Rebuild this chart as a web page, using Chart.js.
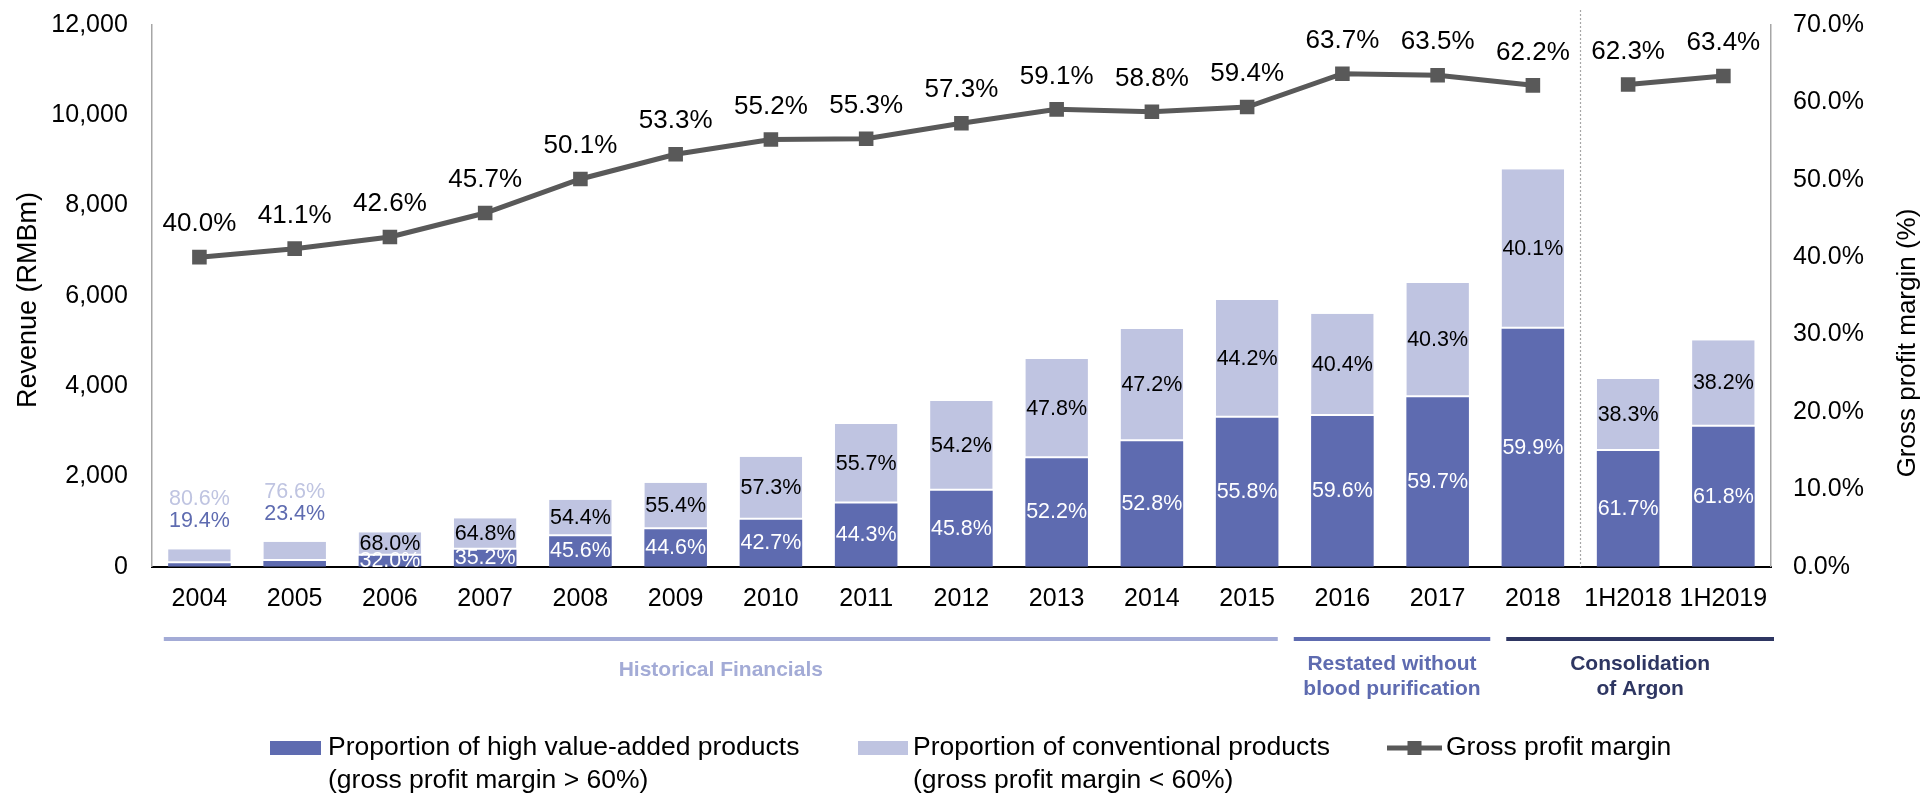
<!DOCTYPE html>
<html>
<head>
<meta charset="utf-8">
<script src="https://cdn.jsdelivr.net/npm/chart.js@4.4.1/dist/chart.umd.min.js"></script>
<style>
  html, body { margin: 0; padding: 0; background: #fff; }
  #wrap { width: 1921px; height: 793px; }
</style>
</head>
<body>
<div id="wrap"><canvas id="revenueChart" width="1921" height="793"></canvas></div>
<script>
// ========== 数据 ==========
const periods = ['2004', '2005', '2006', '2007', '2008', '2009', '2010', '2011', '2012',
    '2013', '2014', '2015', '2016', '2017', '2018', '1H2018', '1H2019'];

// 总收入 (RMBm)
const revenue = [385, 550, 762, 1072, 1484, 1861, 2437, 3161, 3670,
    4600, 5265, 5910, 5604, 6284, 8802, 4157, 5015];

// 高附加值产品占比 / 常规产品占比 (%)
const highShare = [19.4, 23.4, 32.0, 35.2, 45.6, 44.6, 42.7, 44.3, 45.8,
    52.2, 52.8, 55.8, 59.6, 59.7, 59.9, 61.7, 61.8];
const convShare = [80.6, 76.6, 68.0, 64.8, 54.4, 55.4, 57.3, 55.7, 54.2,
    47.8, 47.2, 44.2, 40.4, 40.3, 40.1, 38.3, 38.2];

// 毛利率 (%)
const grossMargin = [40.0, 41.1, 42.6, 45.7, 50.1, 53.3, 55.2, 55.3, 57.3,
    59.1, 58.8, 59.4, 63.7, 63.5, 62.2, 62.3, 63.4];

const revenueTicks = [0, 2000, 4000, 6000, 8000, 10000, 12000];
const marginTicks = [0, 10, 20, 30, 40, 50, 60, 70];

// 期间分组
const groupNames = [['Historical Financials'], ['Restated without', 'blood purification'], ['Consolidation', 'of Argon']];
const groupRanges = [[0, 11], [12, 13], [14, 16]];

// 小柱子标签放在柱顶上方
const labelsAbove = ['2004', '2005'];
// 半年数据与年度数据之间断开
const breakAfter = '2018';

const legendText = [
    ['Proportion of high value-added products', '(gross profit margin > 60%)'],
    ['Proportion of conventional products', '(gross profit margin < 60%)'],
    ['Gross profit margin']
];

// ========== 样式 ==========
const FONT = '"Liberation Sans", Arial, Helvetica, sans-serif';
const COLOR_HIGH = '#5E6BB0';
const COLOR_CONV = '#BFC4E1';
const COLOR_LINE = '#595959';
const GROUP_COLORS = ['#A3ABD6', '#5E6BB0', '#2E3662'];
const GROUP_INSET = [[12, -17], [-1, 5], [21, 3]];

const highRevenue = revenue.map((v, i) => v * highShare[i] / 100);
const convRevenue = revenue.map((v, i) => v * convShare[i] / 100);

const pct = v => v.toFixed(1) + '%';

// 固定坐标轴占位，不让刻度文字挤占绘图区
const fixBox = (w, h) => s => {
    if (w) s.width = w;
    if (h) s.height = h;
    s.paddingTop = 0;
    s.paddingBottom = 0;
    s.paddingLeft = 0;
    s.paddingRight = 0;
};

// ========== 标签、分组、图例 ==========
const decorPlugin = {
    id: 'decor',
    beforeDatasetsDraw(chart) {
        const ctx = chart.ctx;
        const x = chart.scales.x;
        const idx = periods.indexOf(breakAfter);
        const sepX = (x.getPixelForValue(idx) + x.getPixelForValue(idx + 1)) / 2;
        ctx.save();
        ctx.strokeStyle = '#A6A6A6';
        ctx.lineWidth = 1.2;
        ctx.setLineDash([2, 2]);
        ctx.beginPath();
        ctx.moveTo(sepX, 10);
        ctx.lineTo(sepX, chart.chartArea.bottom);
        ctx.stroke();
        ctx.restore();
    },
    afterDatasetsDraw(chart) {
        const ctx = chart.ctx;
        const hi = chart.getDatasetMeta(0).data;
        const lo = chart.getDatasetMeta(1).data;
        const pts = chart.getDatasetMeta(2).data;

        ctx.save();
        ctx.textAlign = 'center';
        ctx.textBaseline = 'middle';
        ctx.font = '21.5px ' + FONT;
        periods.forEach((p, i) => {
            const a = hi[i], b = lo[i];
            if (labelsAbove.includes(p)) {
                ctx.fillStyle = COLOR_CONV;
                ctx.fillText(pct(convShare[i]), b.x, b.y - 50);
                ctx.fillStyle = COLOR_HIGH;
                ctx.fillText(pct(highShare[i]), b.x, b.y - 28);
            } else {
                ctx.fillStyle = '#fff';
                ctx.fillText(pct(highShare[i]), a.x, (a.y + a.base) / 2);
                ctx.fillStyle = '#000';
                ctx.fillText(pct(convShare[i]), b.x, (b.y + b.base) / 2);
            }
        });

        // 毛利率标签
        ctx.font = '26px ' + FONT;
        ctx.fillStyle = '#000';
        pts.forEach((pt, i) => {
            ctx.fillText(pct(grossMargin[i]), pt.x, pt.y - 33);
        });
        ctx.restore();
    },
    afterDraw(chart) {
        const ctx = chart.ctx;
        const x = chart.scales.x;
        const half = (x.getPixelForValue(1) - x.getPixelForValue(0)) / 2;

        ctx.save();
        // 轴标题
        ctx.fillStyle = '#000';
        ctx.textAlign = 'center';
        ctx.textBaseline = 'middle';
        [[29, 300, 27, 'Revenue (RMBm)'], [1908, 343, 26, 'Gross profit margin (%)']].forEach(([tx, ty, size, text]) => {
            ctx.save();
            ctx.font = size + 'px ' + FONT;
            ctx.translate(tx, ty);
            ctx.rotate(-Math.PI / 2);
            ctx.fillText(text, 0, 0);
            ctx.restore();
        });

        // 期间分组线与说明
        groupRanges.forEach(([from, to], g) => {
            const x0 = x.getPixelForValue(from) - half + GROUP_INSET[g][0];
            const x1 = x.getPixelForValue(to) + half + GROUP_INSET[g][1];
            ctx.fillStyle = GROUP_COLORS[g];
            ctx.fillRect(x0, 637, x1 - x0, 4);
            ctx.font = 'bold 21px ' + FONT;
            const lines = groupNames[g];
            const y0 = lines.length === 1 ? 670 : 664;
            lines.forEach((t, k) => ctx.fillText(t, (x0 + x1) / 2, y0 + k * 25));
        });

        // 图例
        ctx.textAlign = 'left';
        ctx.font = '26.5px ' + FONT;
        const rowY = [748, 781];
        const items = [
            { sx: 270, sw: 51, tx: 328, kind: 'box', color: COLOR_HIGH },
            { sx: 858, sw: 50, tx: 913, kind: 'box', color: COLOR_CONV },
            { sx: 1387, sw: 55, tx: 1446, kind: 'line', color: COLOR_LINE }
        ];
        items.forEach((it, n) => {
            ctx.fillStyle = it.color;
            if (it.kind === 'box') {
                ctx.fillRect(it.sx, rowY[0] - 7, it.sw, 14);
            } else {
                ctx.fillRect(it.sx, rowY[0] - 2.5, it.sw, 5);
                ctx.fillRect(it.sx + it.sw / 2 - 7, rowY[0] - 7, 14, 14);
            }
            ctx.fillStyle = '#000';
            legendText[n].forEach((t, k) => ctx.fillText(t, it.tx, rowY[k]));
        });
        ctx.restore();
    }
};

// ========== 图表 ==========
const chartCtx = document.getElementById('revenueChart').getContext('2d');

new Chart(chartCtx, {
    type: 'bar',
    data: {
        labels: periods,
        datasets: [
            {
                label: legendText[0].join(' '),
                data: highRevenue,
                backgroundColor: COLOR_HIGH,
                yAxisID: 'y',
                order: 2,
                barPercentage: 0.657,
                categoryPercentage: 1.0
            },
            {
                label: legendText[1].join(' '),
                data: convRevenue,
                backgroundColor: COLOR_CONV,
                borderColor: '#fff',
                borderWidth: { top: 0, left: 0, right: 0, bottom: 2 },
                borderSkipped: false,
                yAxisID: 'y',
                order: 2,
                barPercentage: 0.657,
                categoryPercentage: 1.0
            },
            {
                type: 'line',
                label: legendText[2][0],
                data: grossMargin,
                yAxisID: 'y1',
                order: 0,
                borderColor: COLOR_LINE,
                borderWidth: 5,
                tension: 0,
                pointStyle: 'rect',
                pointRadius: 10.3,
                pointHoverRadius: 10.3,
                pointBorderWidth: 0,
                pointBackgroundColor: COLOR_LINE,
                segment: {
                    borderColor: c => c.p0DataIndex === periods.indexOf(breakAfter) ? 'rgba(0,0,0,0)' : COLOR_LINE
                }
            }
        ]
    },
    options: {
        responsive: false,
        devicePixelRatio: 1,
        animation: false,
        layout: { padding: { top: 25, left: 0, right: 0, bottom: 0 } },
        plugins: {
            legend: { display: false },
            title: { display: false },
            tooltip: { enabled: false }
        },
        scales: {
            x: {
                stacked: true,
                z: 1,
                grid: { display: false, drawTicks: false },
                border: { color: '#000', width: 2 },
                ticks: {
                    color: '#000',
                    font: { family: FONT, size: 25 },
                    padding: 17,
                    autoSkip: false,
                    maxRotation: 0
                },
                afterFit: fixBox(0, 226.3)
            },
            y: {
                stacked: true,
                position: 'left',
                min: 0,
                max: 12000,
                grid: { display: false, drawTicks: false },
                border: { color: '#A6A6A6', width: 1.5 },
                afterBuildTicks: s => { s.ticks = revenueTicks.map(v => ({ value: v })); },
                ticks: {
                    color: '#000',
                    font: { family: FONT, size: 25 },
                    padding: 24,
                    callback: v => v.toLocaleString('en-US')
                },
                afterFit: fixBox(151.8, 0)
            },
            y1: {
                position: 'right',
                min: 0,
                max: 70,
                grid: { display: false, drawTicks: false },
                border: { color: '#A6A6A6', width: 1.5 },
                afterBuildTicks: s => { s.ticks = marginTicks.map(v => ({ value: v })); },
                ticks: {
                    color: '#000',
                    font: { family: FONT, size: 25 },
                    padding: 22,
                    callback: v => v.toFixed(1) + '%'
                },
                afterFit: fixBox(150, 0)
            }
        }
    },
    plugins: [decorPlugin]
});
</script>
</body>
</html>
